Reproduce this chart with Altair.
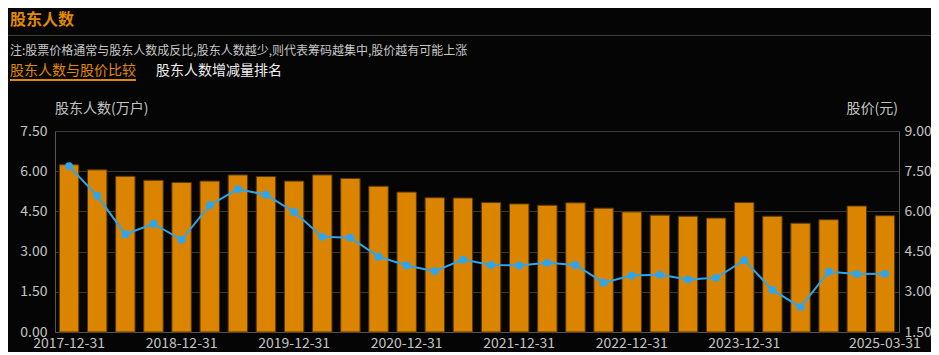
import altair as alt
import pandas as pd

dates = ["2017-12-31", "2018-03-31", "2018-06-30", "2018-09-30", "2018-12-31",
         "2019-03-31", "2019-06-30", "2019-09-30", "2019-12-31", "2020-03-31",
         "2020-06-30", "2020-09-30", "2020-12-31", "2021-03-31", "2021-06-30",
         "2021-09-30", "2021-12-31", "2022-03-31", "2022-06-30", "2022-09-30",
         "2022-12-31", "2023-03-31", "2023-06-30", "2023-09-30", "2023-12-31",
         "2024-03-31", "2024-06-30", "2024-09-30", "2024-12-31", "2025-03-31"]
holders = [6.24, 6.05, 5.81, 5.66, 5.58, 5.63, 5.86, 5.80, 5.63, 5.86,
           5.73, 5.44, 5.22, 5.01, 5.00, 4.83, 4.78, 4.73, 4.82, 4.62,
           4.48, 4.36, 4.32, 4.25, 4.83, 4.32, 4.06, 4.19, 4.70, 4.34]
price = [7.69, 6.58, 5.15, 5.54, 4.94, 6.23, 6.83, 6.62, 5.98, 5.05,
         5.02, 4.31, 3.98, 3.77, 4.20, 4.00, 3.98, 4.08, 4.00, 3.34,
         3.61, 3.64, 3.46, 3.52, 4.18, 3.07, 2.43, 3.75, 3.66, 3.67]
x_labels = ["2017-12-31", "2018-12-31", "2019-12-31", "2020-12-31",
            "2021-12-31", "2022-12-31", "2023-12-31", "2025-03-31"]
left_ticks = [0, 1.5, 3.0, 4.5, 6.0, 7.5]
right_ticks = [1.5, 3.0, 4.5, 6.0, 7.5, 9.0]

title_text = "股东人数"
note_text = "注:股票价格通常与股东人数成反比,股东人数越少,则代表筹码越集中,股价越有可能上涨"
tab1_text = "股东人数与股价比较"
tab2_text = "股东人数增减量排名"
left_title = "股东人数(万户)"
right_title = "股价(元)"

df = pd.DataFrame({"date": dates, "holders": holders, "price": price})

FONT = "Noto Sans CJK SC"
ORANGE = "#DB8400"
BLUE = "#2EA6EE"
LABEL = "#C4C4C4"

x_enc = alt.X("date:O", sort=None, title=None,
              scale=alt.Scale(paddingInner=0.31, paddingOuter=0.155),
              axis=alt.Axis(values=x_labels, labelAngle=0, ticks=False,
                            domainColor="#555555", labelPadding=4,
                            labelColor=LABEL, labelFontSize=14, labelFont=FONT,
                            grid=False))

bars = alt.Chart(df).mark_bar(color=ORANGE, stroke="#5a3700", strokeWidth=1).encode(
    x=x_enc,
    y=alt.Y("holders:Q", title=None,
            scale=alt.Scale(domain=[0, 7.5], nice=False, zero=True),
            axis=alt.Axis(values=left_ticks, format=".2f", ticks=False,
                          grid=True, gridColor="#3a3a3a", domainColor="#555555",
                          labelPadding=8, labelColor=LABEL, labelFontSize=14,
                          labelFont=FONT, orient="left")),
)

line_base = alt.Chart(df).encode(
    x=alt.X("date:O", sort=None),
    y=alt.Y("price:Q", title=None,
            scale=alt.Scale(domain=[1.5, 9.0], nice=False, zero=False),
            axis=alt.Axis(values=right_ticks, format=".2f", ticks=False,
                          grid=False, domainColor="#555555",
                          labelPadding=5, labelColor=LABEL, labelFontSize=14,
                          labelFont=FONT, orient="right")),
)
line = line_base.mark_line(color=BLUE, strokeWidth=2) + \
    line_base.mark_point(color=BLUE, filled=True, opacity=1, size=62)

one = pd.DataFrame({"k": [0]})


def txt(text, x, y, size, color, align="left", weight="normal"):
    return alt.Chart(one).mark_text(
        text=text, align=align, baseline="middle", fontSize=size,
        font=FONT, color=color, fontWeight=weight
    ).encode(x=alt.value(x), y=alt.value(y))


deco = [
    txt(title_text, -45, -111, 16, "#E08A00", weight="bold"),
    alt.Chart(one).mark_rule(color="#3f3f3f", strokeWidth=1).encode(
        x=alt.value(-47), x2=alt.value(876), y=alt.value(-95.5)),
    txt(note_text, -45, -80, 12, "#c8c8c8"),
    txt(tab1_text, -45, -60, 14, "#E08A00"),
    alt.Chart(one).mark_rule(color="#E08A00", strokeWidth=2).encode(
        x=alt.value(-45), x2=alt.value(81), y=alt.value(-51)),
    txt(tab2_text, 101, -60, 14, "#eeeeee"),
    txt(left_title, 0, -22, 14, LABEL),
    txt(right_title, 843, -22, 14, LABEL, align="right"),
]

chart = alt.layer(bars, line, *deco).resolve_scale(y="independent").properties(
    width=844, height=201,
    autosize=alt.AutoSizeParams(type="none"),
    padding={"left": 47, "top": 123, "right": 32, "bottom": 20},
    background="#050505",
).configure_view(strokeWidth=0)

chart.save("out.html", embed_options={"renderer": "svg", "actions": False})
